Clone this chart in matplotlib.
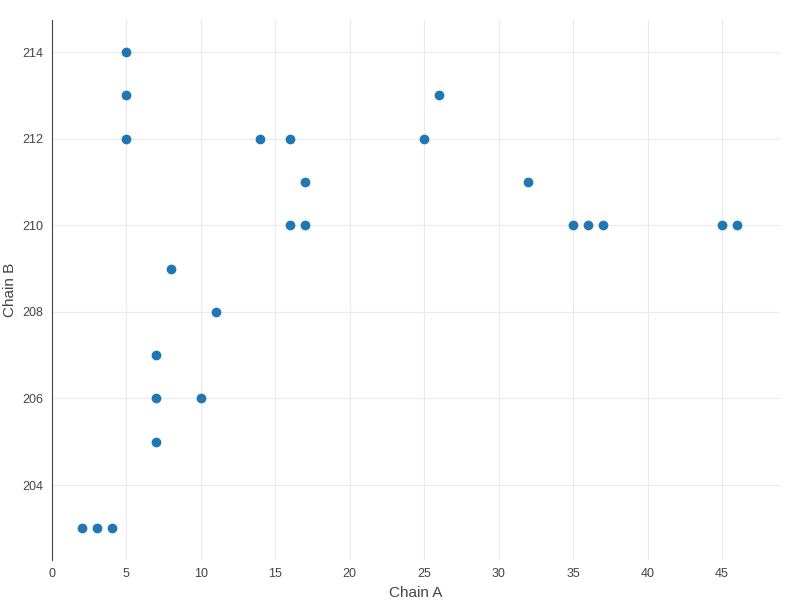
import matplotlib
matplotlib.use("Agg")
import matplotlib.pyplot as plt

chain_a = [2, 3, 4, 5, 5, 5, 7, 7, 7, 8, 10, 11, 14, 16, 16, 17, 17, 25, 26, 32, 35, 36, 37, 45, 46]
chain_b = [203, 203, 203, 214, 213, 212, 207, 206, 205, 209, 206, 208, 212, 212, 210, 211, 210, 212, 213, 211, 210, 210, 210, 210, 210]

plt.rcParams['font.family'] = ['Liberation Sans', 'DejaVu Sans']
fig = plt.figure(figsize=(8, 6), dpi=100)
ax = fig.add_axes([0.065, 0.0667, 0.91, 0.9])
ax.scatter(chain_a, chain_b, s=36, color='#1f77b4', zorder=3)
ax.set_xlim(0, 48.9)
ax.set_ylim(202.27, 214.74)
ax.set_xticks(range(0, 50, 5))
ax.set_yticks(range(204, 215, 2))
ax.grid(True, color='#ebebeb', linewidth=0.8)
for s in ['top', 'right', 'bottom']:
    ax.spines[s].set_visible(False)
ax.spines['left'].set_color('#444444')
ax.tick_params(length=0, labelsize=9, colors='#444444', pad=6)
ax.set_xlabel('Chain A', fontsize=11, color='#444444')
ax.set_ylabel('Chain B', fontsize=11, color='#444444', labelpad=4)
fig.savefig('out.png')
